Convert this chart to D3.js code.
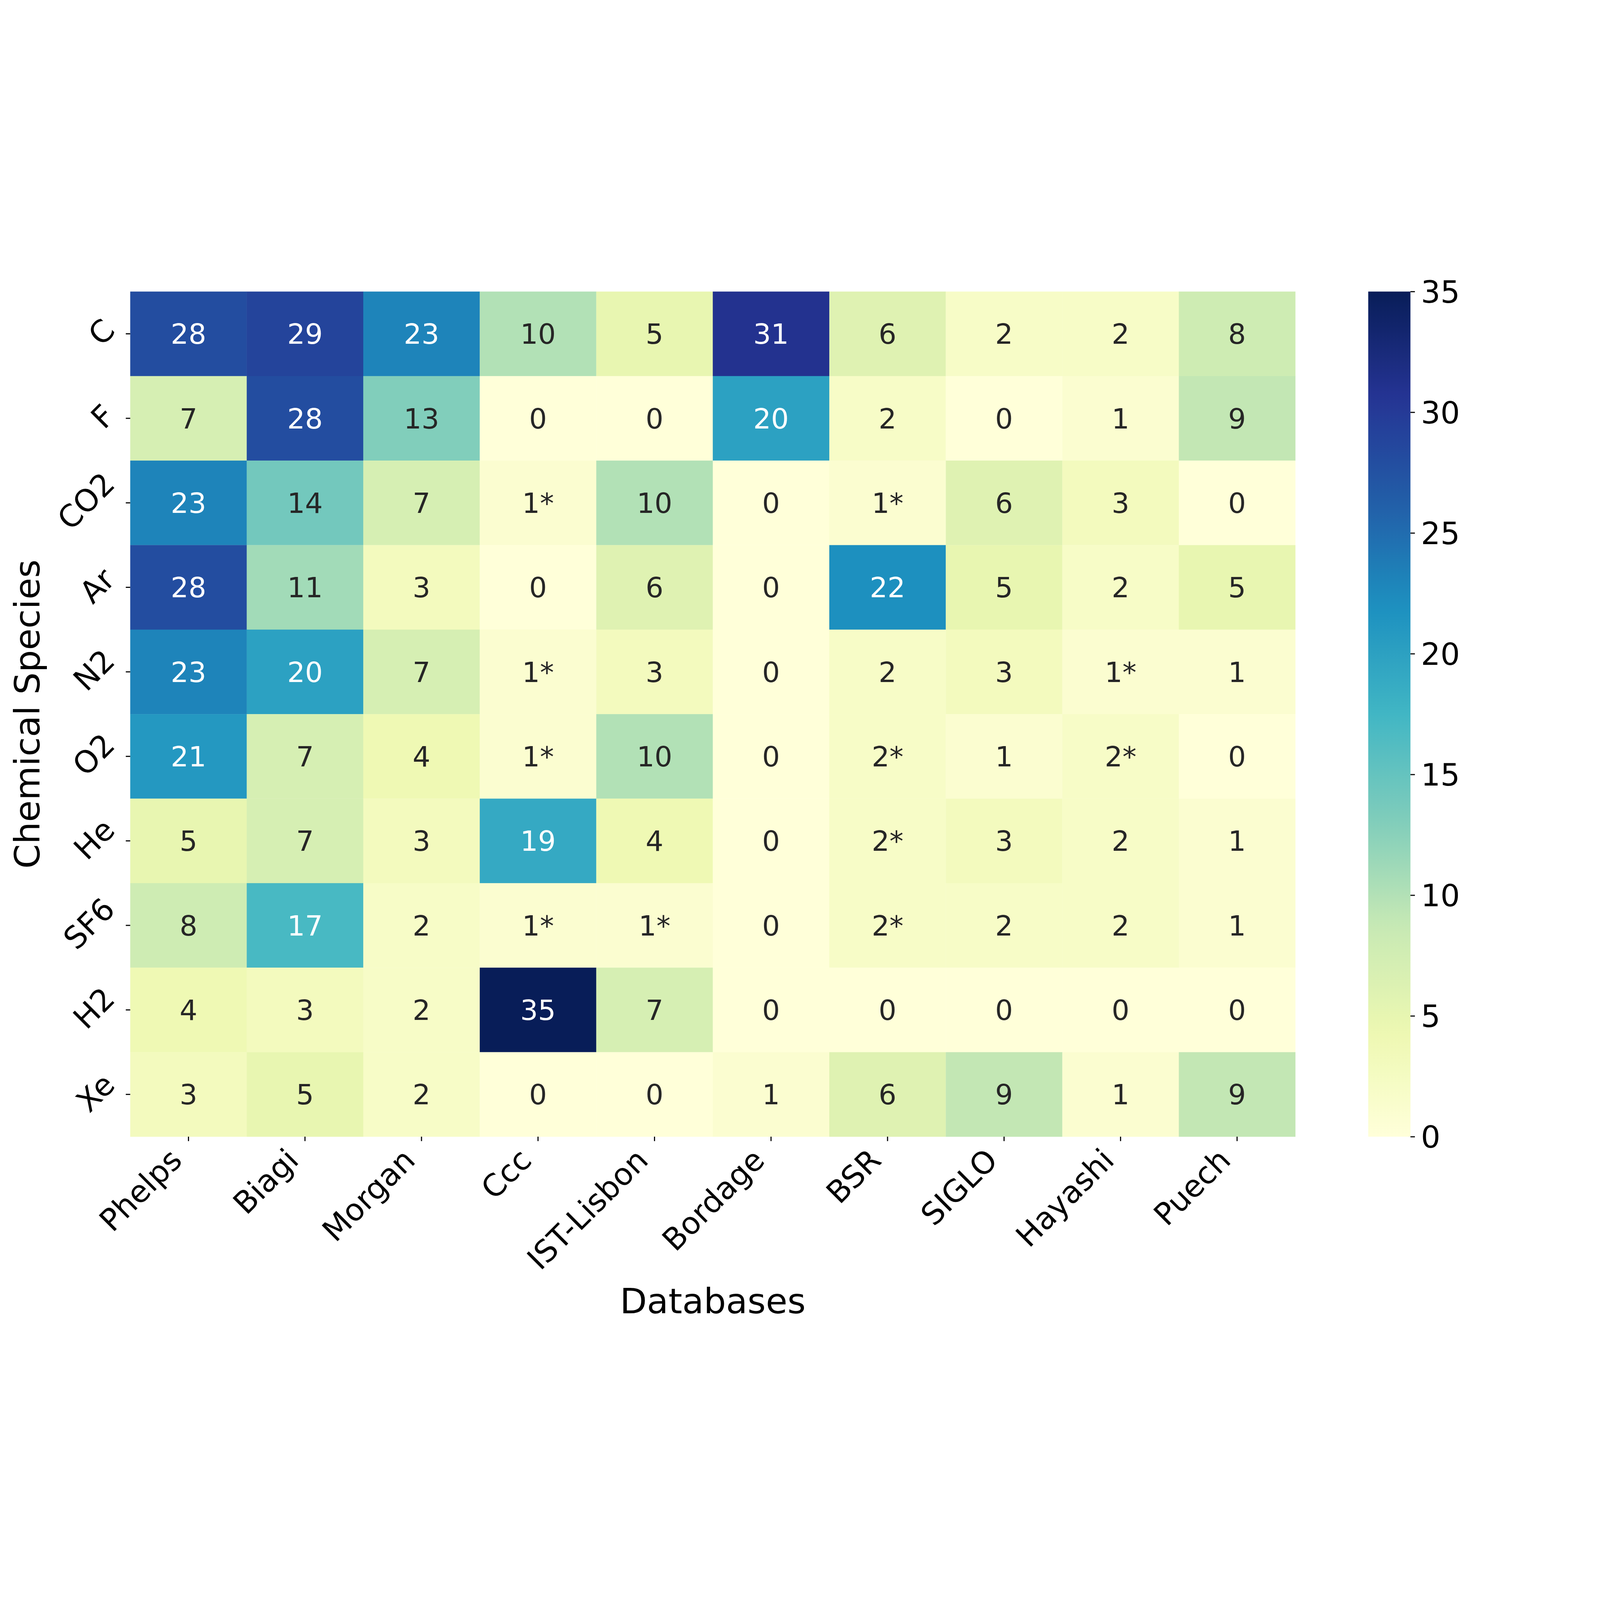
<!DOCTYPE html>
<html>
<head>
<meta charset="utf-8">
<script src="https://cdn.jsdelivr.net/npm/d3@7"></script>
<style>
  html, body { margin: 0; padding: 0; background: #fff; overflow: hidden; }
  #chart { display: block; width: 100vw; height: 100vh; }
  text { font-family: "DejaVu Sans", sans-serif; }
</style>
</head>
<body>
<svg id="chart"></svg>
<script>
// chart data
const species = ["C", "F", "CO2", "Ar", "N2", "O2", "He", "SF6", "H2", "Xe"];
const databases = ["Phelps", "Biagi", "Morgan", "Ccc", "IST-Lisbon", "Bordage", "BSR", "SIGLO", "Hayashi", "Puech"];
const counts = [
    [28, 29, 23, 10, 5, 31, 6, 2, 2, 8],
    [7, 28, 13, 0, 0, 20, 2, 0, 1, 9],
    [23, 14, 7, 1, 10, 0, 1, 6, 3, 0],
    [28, 11, 3, 0, 6, 0, 22, 5, 2, 5],
    [23, 20, 7, 1, 3, 0, 2, 3, 1, 1],
    [21, 7, 4, 1, 10, 0, 2, 1, 2, 0],
    [5, 7, 3, 19, 4, 0, 2, 3, 2, 1],
    [8, 17, 2, 1, 1, 0, 2, 2, 2, 1],
    [4, 3, 2, 35, 7, 0, 0, 0, 0, 0],
    [3, 5, 2, 0, 0, 1, 6, 9, 1, 9]
];
const cellLabels = [
    ["28", "29", "23", "10", "5", "31", "6", "2", "2", "8"],
    ["7", "28", "13", "0", "0", "20", "2", "0", "1", "9"],
    ["23", "14", "7", "1*", "10", "0", "1*", "6", "3", "0"],
    ["28", "11", "3", "0", "6", "0", "22", "5", "2", "5"],
    ["23", "20", "7", "1*", "3", "0", "2", "3", "1*", "1"],
    ["21", "7", "4", "1*", "10", "0", "2*", "1", "2*", "0"],
    ["5", "7", "3", "19", "4", "0", "2*", "3", "2", "1"],
    ["8", "17", "2", "1*", "1*", "0", "2*", "2", "2", "1"],
    ["4", "3", "2", "35", "7", "0", "0", "0", "0", "0"],
    ["3", "5", "2", "0", "0", "1", "6", "9", "1", "9"]
];
const cbarTicks = [0, 5, 10, 15, 20, 25, 30, 35];
const ylgnbu = ["#ffffd9", "#edf8b1", "#c7e9b4", "#7fcdbb", "#41b6c4", "#1d91c0", "#225ea8", "#253494", "#081d58"];

const W = 7200, H = 4800;
const plotL = 586, plotR = 5829, plotT = 112, plotB = 3915;
const cbL = 6157, cbR = 6347;
const tickLen = 20, tickPad = 20, tickW = 5;
const tickFont = 138, annFont = 126, labelFont = 158;

const svg = d3.select('#chart')
    .attr('viewBox', `0 0 ${W} ${H}`)
    .attr('preserveAspectRatio', 'xMidYMid meet')
    .style('background', '#fff');

const x = d3.scaleBand().domain(databases).range([plotL, plotR]);
const y = d3.scaleBand().domain(species).range([plotT, plotB]);
const color = d3.scaleSequential(d3.piecewise(d3.interpolateRgb, ylgnbu)).domain([0, 35]);

// seaborn style text colour choice
function luminance(c) {
    const rgb = d3.rgb(c);
    const lin = [rgb.r, rgb.g, rgb.b].map(v => {
        v = v / 255;
        return v <= 0.03928 ? v / 12.92 : Math.pow((v + 0.055) / 1.055, 2.4);
    });
    return 0.2126 * lin[0] + 0.7152 * lin[1] + 0.0722 * lin[2];
}

const cells = [];
species.forEach((s, i) => databases.forEach((d, j) => {
    cells.push({ s, d, v: counts[i][j], label: cellLabels[i][j] });
}));

svg.selectAll('.cell')
    .data(cells)
    .enter()
    .append('rect')
    .attr('x', d => x(d.d))
    .attr('y', d => y(d.s))
    .attr('width', x.bandwidth() + 0.5)
    .attr('height', y.bandwidth() + 0.5)
    .attr('fill', d => color(d.v));

svg.selectAll('.ann')
    .data(cells)
    .enter()
    .append('text')
    .attr('x', d => x(d.d) + x.bandwidth() / 2)
    .attr('y', d => y(d.s) + y.bandwidth() / 2)
    .attr('dy', '0.36em')
    .attr('text-anchor', 'middle')
    .style('font-size', annFont + 'px')
    .attr('fill', d => luminance(color(d.v)) > 0.408 ? '#262626' : '#ffffff')
    .text(d => d.label);

// x axis
const asc = 0.76 * tickFont, desc = 0.22 * tickFont, r2 = Math.SQRT1_2;
const xAxis = svg.append('g')
    .attr('transform', `translate(0, ${plotB})`)
    .call(d3.axisBottom(x).tickSize(tickLen).tickSizeOuter(0));
xAxis.select('.domain').remove();
xAxis.selectAll('line').attr('stroke', '#000').attr('stroke-width', tickW);
xAxis.selectAll('text')
    .attr('fill', '#000')
    .style('font-size', tickFont + 'px')
    .style('font-family', '"DejaVu Sans", sans-serif')
    .attr('text-anchor', 'end')
    .attr('dy', 0)
    .attr('x', -r2 * desc)
    .attr('y', tickLen + tickPad + r2 * asc)
    .attr('transform', function () {
        return `rotate(-45, ${d3.select(this).attr('x')}, ${d3.select(this).attr('y')})`;
    });

// y axis
const yAxis = svg.append('g')
    .attr('transform', `translate(${plotL}, 0)`)
    .call(d3.axisLeft(y).tickSize(tickLen).tickSizeOuter(0));
yAxis.select('.domain').remove();
yAxis.selectAll('line').attr('stroke', '#000').attr('stroke-width', tickW);
yAxis.selectAll('text')
    .attr('fill', '#000')
    .style('font-size', tickFont + 'px')
    .style('font-family', '"DejaVu Sans", sans-serif')
    .attr('text-anchor', 'end')
    .attr('dy', 0)
    .each(function () {
        const t = d3.select(this);
        const w = this.getComputedTextLength();
        const ex = -tickLen - tickPad - r2 * desc;
        const ey = r2 * (asc - desc - w) / 2;
        t.attr('x', ex).attr('y', ey)
            .attr('transform', `rotate(-45, ${ex}, ${ey})`);
    });

// axis titles
svg.append('text')
    .attr('x', (plotL + plotR) / 2)
    .attr('y', 4709)
    .attr('text-anchor', 'middle')
    .style('font-size', labelFont + 'px')
    .text('Databases');

svg.append('text')
    .attr('transform', `translate(177, ${(plotT + plotB) / 2}) rotate(-90)`)
    .attr('text-anchor', 'middle')
    .style('font-size', labelFont + 'px')
    .text('Chemical Species');

// colour bar
const cb = d3.scaleLinear().domain([0, 35]).range([plotB, plotT]);
const grad = svg.append('defs').append('linearGradient')
    .attr('id', 'cbgrad')
    .attr('x1', 0).attr('y1', 1).attr('x2', 0).attr('y2', 0);
grad.selectAll('stop')
    .data(d3.range(0, 1.0001, 0.02))
    .enter()
    .append('stop')
    .attr('offset', d => d)
    .attr('stop-color', d => color(d * 35));

svg.append('rect')
    .attr('x', cbL)
    .attr('y', plotT)
    .attr('width', cbR - cbL)
    .attr('height', plotB - plotT)
    .attr('fill', 'url(#cbgrad)');

const cbAxis = svg.append('g')
    .attr('transform', `translate(${cbR}, 0)`)
    .call(d3.axisRight(cb).tickValues(cbarTicks).tickSize(tickLen).tickPadding(27).tickFormat(d3.format('d')));
cbAxis.select('.domain').remove();
cbAxis.selectAll('line').attr('stroke', '#000').attr('stroke-width', tickW);
cbAxis.selectAll('text')
    .attr('fill', '#000')
    .attr('dy', '0.36em')
    .style('font-size', tickFont + 'px')
    .style('font-family', '"DejaVu Sans", sans-serif');
</script>
</body>
</html>
